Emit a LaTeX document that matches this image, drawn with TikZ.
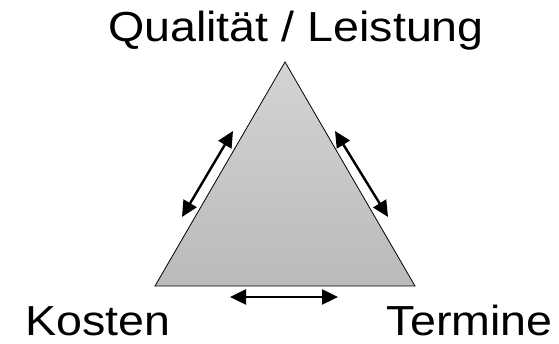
\documentclass[tikz,border=0pt]{standalone}
\usepackage{fontspec}
\setmainfont{Liberation Sans}
\usetikzlibrary{arrows.meta}
\tikzset{
  lbl/.style={inner sep=0pt, font=\fontsize{42}{50}\selectfont, xscale=1.11, transform shape},
  dbl/.style={line width=2.4pt, {Triangle[length=16pt,width=15pt]}-{Triangle[length=16pt,width=15pt]}},
  tri/.style={draw=black, line width=0.8pt, top color=white!83!black, bottom color=white!73!black, line join=miter}
}
\begin{document}
\begin{tikzpicture}[x=1pt,y=1pt]
\useasboundingbox (0,0) rectangle (559,344);
\coordinate (apex) at (285,282);
\coordinate (bl) at (155,58);
\coordinate (br) at (415,58);
\path[tri] (apex) -- (bl) -- (br) -- cycle;
\coordinate (l1) at (233,213);
\coordinate (l2) at (182,127);
\coordinate (r1) at (335,213);
\coordinate (r2) at (388,127);
\coordinate (b1) at (230,47);
\coordinate (b2) at (338,47);
\draw[dbl] (l1) -- (l2);
\draw[dbl] (r1) -- (r2);
\draw[dbl] (b1) -- (b2);
\node[lbl, anchor=base] (q) at (296,302) {Qualität / Leistung};
\node[lbl, anchor=base west] (k) at (25,8) {Kosten};
\node[lbl, anchor=base east] (t) at (553,8) {Termine};
\end{tikzpicture}
\end{document}
